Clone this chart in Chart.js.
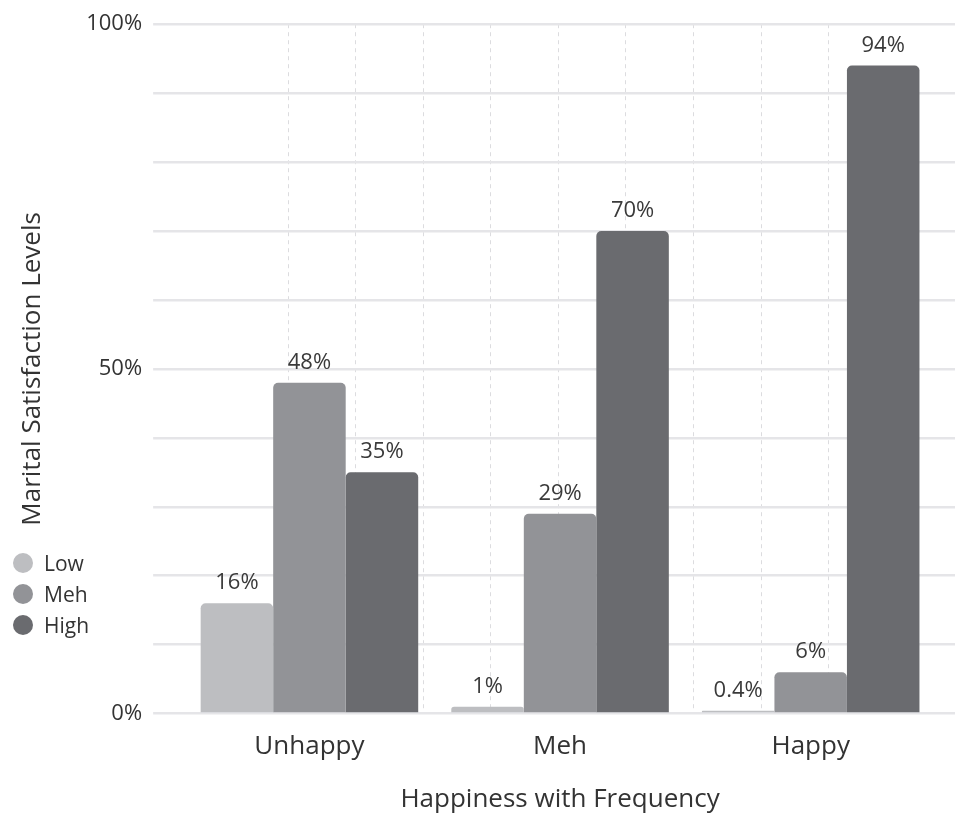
<!DOCTYPE html>
<html>
<head>
<meta charset="utf-8">
<script src="https://cdn.jsdelivr.net/npm/chart.js@4/dist/chart.umd.min.js"></script>
<style>
  body { margin: 0; background: #fff; }
  #wrap { position: relative; width: 955px; height: 817px; }
  #legend { position: absolute; left: 13px; top: 547px; font-family: "Open Sans", sans-serif; font-size: 21px; color: #333; }
  #legend div { display: flex; align-items: center; height: 31px; }
  #legend span.dot { width: 20px; height: 20px; border-radius: 50%; margin-right: 11px; display: inline-block; }
</style>
</head>
<body>
<div id="wrap">
  <canvas id="chart" width="955" height="817"></canvas>
  <div id="legend"></div>
</div>
<script>
  const categories = ['Unhappy', 'Meh', 'Happy'];
  const seriesNames = ['Low', 'Meh', 'High'];
  const lowValues = [16, 1, 0.4];
  const mehValues = [48, 29, 6];
  const highValues = [35, 70, 94];
  const yTickLabels = ['0%', '50%', '100%'];
  const colors = ['#bdbec1', '#929397', '#6a6b6f'];

  const gridColor = '#e5e5e8';
  const font = '"Open Sans", sans-serif';

  // legend sits over the y title column, so build it in html
  const legend = document.getElementById('legend');
  seriesNames.forEach((name, i) => {
    const row = document.createElement('div');
    row.innerHTML = '<span class="dot" style="background:' + colors[i] + '"></span>' + name;
    legend.appendChild(row);
  });

  const valueLabels = {
    id: 'valueLabels',
    afterDatasetsDraw(chart) {
      const c = chart.ctx;
      c.save();
      c.font = '22px ' + font;
      c.fillStyle = '#3a3a3a';
      c.textAlign = 'center';
      c.textBaseline = 'alphabetic';
      chart.data.datasets.forEach((ds, i) => {
        chart.getDatasetMeta(i).data.forEach((bar, j) => {
          c.fillText(ds.data[j] + '%', bar.x, bar.y - 14);
        });
      });
      c.restore();
    }
  };

  new Chart(document.getElementById('chart'), {
    type: 'bar',
    data: {
      labels: categories,
      datasets: [lowValues, mehValues, highValues].map((vals, i) => ({
        label: seriesNames[i],
        data: vals,
        backgroundColor: colors[i],
        borderRadius: 5,
        borderSkipped: 'start',
        categoryPercentage: 0.868,
        barPercentage: 1
      }))
    },
    options: {
      responsive: false,
      animation: false,
      layout: { padding: { top: 13, left: 10, right: 0, bottom: 2 } },
      plugins: {
        legend: { display: false },
        tooltip: { enabled: false }
      },
      scales: {
        x: {
          grid: { display: false },
          border: { display: false },
          ticks: { padding: 9, color: '#333', font: { family: font, size: 26 } },
          title: {
            display: true,
            text: 'Happiness with Frequency',
            color: '#333',
            font: { family: font, size: 26 },
            padding: { top: 13, bottom: 0 }
          }
        },
        // hidden axis, only for the dashed vertical lines
        xGrid: {
          type: 'linear',
          position: 'bottom',
          offset: false,
          min: 0.46,
          max: 11.59,
          ticks: { display: false, stepSize: 1 },
          grid: {
            offset: false,
            drawTicks: false,
            lineWidth: 1,
            color: ctx => (ctx.tick && Number.isInteger(ctx.tick.value)) ? '#dcdcdf' : 'rgba(0,0,0,0)'
          },
          border: { display: false, dash: [4, 4] }
        },
        y: {
          min: 0,
          max: 100,
          ticks: {
            stepSize: 10,
            padding: 11,
            color: '#333',
            font: { family: font, size: 22 },
            callback: v => v % 50 === 0 ? yTickLabels[v / 50] : ''
          },
          grid: { color: gridColor, lineWidth: 2.5, tickLength: 31 },
          border: { display: false },
          title: {
            display: true,
            text: 'Marital Satisfaction Levels',
            color: '#333',
            font: { family: font, size: 26 },
            padding: { top: 7, bottom: 27 }
          }
        },
        // right side stub so the grid lines run to the edge
        yRight: {
          position: 'right',
          min: 0,
          max: 100,
          ticks: { display: false, stepSize: 10 },
          grid: { color: gridColor, lineWidth: 2.5, tickLength: 19, drawOnChartArea: false },
          border: { display: false }
        }
      }
    },
    plugins: [valueLabels]
  });
</script>
</body>
</html>
